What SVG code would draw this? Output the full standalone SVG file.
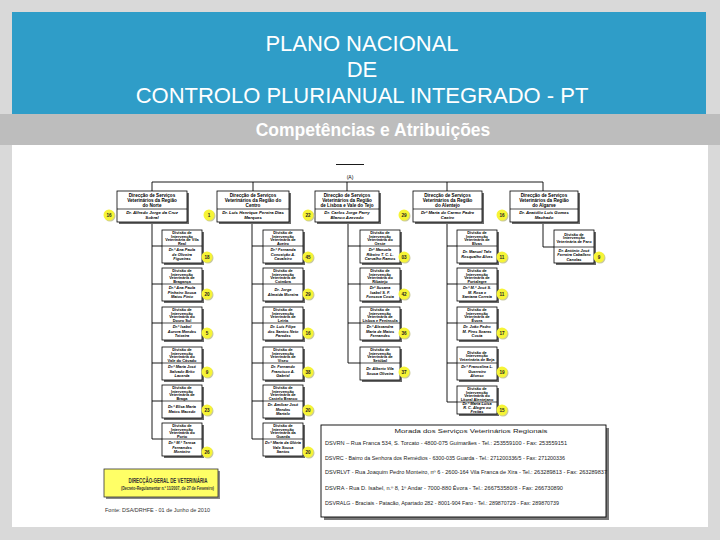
<svg xmlns="http://www.w3.org/2000/svg" width="720" height="540" viewBox="0 0 720 540">
<defs>
<style>
.bg{fill:#d9d9d9}
.hdr{fill:#2f9dc8}
.band{fill:#bdbdbd}
.h1{font-family:"Liberation Sans",Arial,sans-serif;font-size:22px;fill:#fff;text-anchor:middle}
.h2{font-family:"Liberation Sans",Arial,sans-serif;font-size:17.5px;font-weight:bold;fill:#fff;text-anchor:middle}
.box{fill:#fff;stroke:#000;stroke-width:0.8}
.sh{fill:#6a6a6a}
.dv{stroke:#000;stroke-width:0.7}
.tt{font-family:"Liberation Sans",Arial,sans-serif;font-size:4.6px;font-weight:bold;text-anchor:middle;fill:#000}
.tn{font-family:"Liberation Sans",Arial,sans-serif;font-size:4.3px;font-weight:bold;font-style:italic;text-anchor:middle;fill:#000}
.st{font-family:"Liberation Sans",Arial,sans-serif;font-size:3.9px;font-weight:bold;text-anchor:middle;fill:#000}
.sn{font-family:"Liberation Sans",Arial,sans-serif;font-size:3.9px;font-weight:bold;font-style:italic;text-anchor:middle;fill:#000}
.bd{fill:#f6f436}
.bs{fill:#c8c8a0}
.bt{font-family:"Liberation Sans",Arial,sans-serif;font-size:4.6px;font-weight:bold;text-anchor:middle;fill:#222}
.cn{stroke:#000;stroke-width:0.9;fill:none}
.ad{font-family:"Liberation Sans",Arial,sans-serif;font-size:4.6px;fill:#222}
</style>
</defs>
<rect class="bg" x="0" y="0" width="720" height="540"/>
<rect x="12" y="145" width="696" height="382" fill="#fff"/>
<rect class="hdr" x="12" y="12" width="694" height="102"/>
<rect class="band" x="0" y="114" width="720" height="31"/>
<g id="title">
<text class="h1" x="362" y="51">PLANO NACIONAL</text>
<text class="h1" x="362" y="77">DE</text>
<text class="h1" x="362" y="103">CONTROLO PLURIANUAL INTEGRADO - PT</text>
<text class="h2" x="373" y="136">Competências e Atribuições</text>
</g>

<g id="connectors">
<line class="cn" x1="336" y1="164.5" x2="364" y2="164.5"/>
<path class="cn" d="M152 191 V182 H543 V191 M253 182 V191 M347 182 V191 M447 182 V191"/>
<path class="cn" d="M152 222 V439 M152 246 H162 M152 284 H162 M152 323 H162 M152 363 H162 M152 401 H162 M152 439 H162"/>
<path class="cn" d="M252 222 V439 M252 246 H263 M252 284 H263 M252 323 H263 M252 363 H263 M252 401 H263 M252 439 H263"/>
<path class="cn" d="M348 222 V363 M348 246 H360 M348 284 H360 M348 323 H360 M348 363 H360"/>
<path class="cn" d="M447 222 V402 M447 246 H457 M447 284 H457 M447 323 H457 M447 363 H457 M447 402 H457"/>
<path class="cn" d="M543 222 V247 H554"/>
</g>
<text x="350" y="179" font-family="Liberation Sans, Arial, sans-serif" font-size="5" text-anchor="middle">(A)</text>

<!-- top level boxes -->
<g id="dsvrn">
<rect class="sh" x="119" y="193" width="70" height="31"/><rect class="box" x="117" y="191" width="70" height="31"/><line class="dv" x1="117" y1="209" x2="187" y2="209"/>
<text class="tt" x="152" y="196.5"><tspan x="152">Direcção de Serviços</tspan><tspan x="152" dy="5.3">Veterinários da Região</tspan><tspan x="152" dy="5.3">do Norte</tspan></text>
<text class="tn" x="152" y="214.3"><tspan x="152">Dr. Alfredo Jorge da Cruz</tspan><tspan x="152" dy="4.8">Sobral</tspan></text>
<circle class="bs" cx="110" cy="216" r="5.5"/><circle class="bd" cx="109" cy="215" r="5.5"/><text class="bt" x="109" y="216.6">16</text>
</g>
<g id="dsvrc">
<rect class="sh" x="219" y="193" width="72" height="31"/><rect class="box" x="217" y="191" width="72" height="31"/><line class="dv" x1="217" y1="209" x2="289" y2="209"/>
<text class="tt" x="253" y="196.5"><tspan x="253">Direcção de Serviços</tspan><tspan x="253" dy="5.3">Veterinários da Região do</tspan><tspan x="253" dy="5.3">Centro</tspan></text>
<text class="tn" x="253" y="214.3" font-size="4"><tspan x="253">Dr. Luís Henrique Pereira Dias</tspan><tspan x="253" dy="4.8">Marques</tspan></text>
<circle class="bs" cx="210" cy="216" r="5.5"/><circle class="bd" cx="209" cy="215" r="5.5"/><text class="bt" x="209" y="216.6">1</text>
</g>
<g id="dsvrlvt">
<rect class="sh" x="317" y="193" width="64" height="31"/><rect class="box" x="315" y="191" width="64" height="31"/><line class="dv" x1="315" y1="209" x2="379" y2="209"/>
<text class="tt" x="347" y="196.5"><tspan x="347">Direcção de Serviços</tspan><tspan x="347" dy="5.3">Veterinários da Região</tspan><tspan x="347" dy="5.3">de Lisboa e Vale do Tejo</tspan></text>
<text class="tn" x="347" y="214.3"><tspan x="347">Dr. Carlos Jorge Parry</tspan><tspan x="347" dy="4.8">Blanco Azevedo</tspan></text>
<circle class="bs" cx="309" cy="216" r="5.5"/><circle class="bd" cx="308" cy="215" r="5.5"/><text class="bt" x="308" y="216.6">22</text>
</g>
<g id="dsvra">
<rect class="sh" x="415" y="193" width="69" height="31"/><rect class="box" x="413" y="191" width="69" height="31"/><line class="dv" x1="413" y1="209" x2="482" y2="209"/>
<text class="tt" x="447.5" y="196.5"><tspan x="447.5">Direcção de Serviços</tspan><tspan x="447.5" dy="5.3">Veterinários da Região</tspan><tspan x="447.5" dy="5.3">do Alentejo</tspan></text>
<text class="tn" x="447.5" y="214.3"><tspan x="447.5">Drª Maria do Carmo Padre</tspan><tspan x="447.5" dy="4.8">Caeiro</tspan></text>
<circle class="bs" cx="405" cy="216" r="5.5"/><circle class="bd" cx="404" cy="215" r="5.5"/><text class="bt" x="404" y="216.6">29</text>
</g>
<g id="dsvralg">
<rect class="sh" x="512" y="193" width="68" height="31"/><rect class="box" x="510" y="191" width="68" height="31"/><line class="dv" x1="510" y1="209" x2="578" y2="209"/>
<text class="tt" x="544" y="196.5"><tspan x="544">Direcção de Serviços</tspan><tspan x="544" dy="5.3">Veterinários da Região</tspan><tspan x="544" dy="5.3">do Algarve</tspan></text>
<text class="tn" x="544" y="214.3" font-style="normal"><tspan x="544">Dr. Anatólio Luís Gomes</tspan><tspan x="544" dy="4.8">Machado</tspan></text>
<circle class="bs" cx="503" cy="216" r="5.5"/><circle class="bd" cx="502" cy="215" r="5.5"/><text class="bt" x="502" y="216.6">16</text>
</g>

<!-- Norte divisions -->
<g id="n1"><rect class="sh" x="164" y="232" width="40" height="33"/><rect class="box" x="162" y="230" width="40" height="33"/><line class="dv" x1="162" y1="246" x2="202" y2="246"/>
<text class="st" x="182" y="233.6"><tspan x="182">Divisão de</tspan><tspan x="182" dy="3.9">Intervenção</tspan><tspan x="182" dy="3.9">Veterinária de Vila</tspan><tspan x="182" dy="3.9">Real</tspan></text>
<text class="sn" x="182" y="251.2"><tspan x="182">Dr.ª Ana Paula</tspan><tspan x="182" dy="4.3">de Oliveira</tspan><tspan x="182" dy="4.3">Figueiras</tspan></text>
<circle class="bs" cx="208" cy="258" r="5.5"/><circle class="bd" cx="207" cy="257" r="5.5"/><text class="bt" x="207" y="258.6">18</text></g>
<g id="n2"><rect class="sh" x="164" y="270" width="40" height="33"/><rect class="box" x="162" y="268" width="40" height="33"/><line class="dv" x1="162" y1="284" x2="202" y2="284"/>
<text class="st" x="182" y="271.6"><tspan x="182">Divisão de</tspan><tspan x="182" dy="3.9">Intervenção</tspan><tspan x="182" dy="3.9">Veterinária de</tspan><tspan x="182" dy="3.9">Bragança</tspan></text>
<text class="sn" x="182" y="289.2"><tspan x="182">Dr.ª Ana Paula</tspan><tspan x="182" dy="4.3">Pinheiro Sousa</tspan><tspan x="182" dy="4.3">Matos Pinto</tspan></text>
<circle class="bs" cx="208" cy="295" r="5.5"/><circle class="bd" cx="207" cy="294" r="5.5"/><text class="bt" x="207" y="295.6">20</text></g>
<g id="n3"><rect class="sh" x="164" y="309" width="40" height="33"/><rect class="box" x="162" y="307" width="40" height="33"/><line class="dv" x1="162" y1="323" x2="202" y2="323"/>
<text class="st" x="182" y="310.6"><tspan x="182">Divisão de</tspan><tspan x="182" dy="3.9">Intervenção</tspan><tspan x="182" dy="3.9">Veterinária do</tspan><tspan x="182" dy="3.9">Douro Sul</tspan></text>
<text class="sn" x="182" y="328.2"><tspan x="182">Dr.ª Isabel</tspan><tspan x="182" dy="4.3">Aurora Mendes</tspan><tspan x="182" dy="4.3">Teixeira</tspan></text>
<circle class="bs" cx="208" cy="334" r="5.5"/><circle class="bd" cx="207" cy="333" r="5.5"/><text class="bt" x="207" y="334.6">5</text></g>
<g id="n4"><rect class="sh" x="164" y="349" width="40" height="33"/><rect class="box" x="162" y="347" width="40" height="33"/><line class="dv" x1="162" y1="363" x2="202" y2="363"/>
<text class="st" x="182" y="350.6"><tspan x="182">Divisão de</tspan><tspan x="182" dy="3.9">Intervenção</tspan><tspan x="182" dy="3.9">Veterinária do</tspan><tspan x="182" dy="3.9">Vale do Cávado</tspan></text>
<text class="sn" x="182" y="368.2"><tspan x="182">Dr.ª Maria José</tspan><tspan x="182" dy="4.3">Salvado Brito</tspan><tspan x="182" dy="4.3">Lacerda</tspan></text>
<circle class="bs" cx="208" cy="373" r="5.5"/><circle class="bd" cx="207" cy="372" r="5.5"/><text class="bt" x="207" y="373.6">9</text></g>
<g id="n5"><rect class="sh" x="164" y="387" width="40" height="33"/><rect class="box" x="162" y="385" width="40" height="33"/><line class="dv" x1="162" y1="401" x2="202" y2="401"/>
<text class="st" x="182" y="388.6"><tspan x="182">Divisão de</tspan><tspan x="182" dy="3.9">Intervenção</tspan><tspan x="182" dy="3.9">Veterinária de</tspan><tspan x="182" dy="3.9">Braga</tspan></text>
<text class="sn" x="182" y="408.4"><tspan x="182">Dr.ª Elisa Maria</tspan><tspan x="182" dy="4.3">Matos Macedo</tspan></text>
<circle class="bs" cx="208" cy="411" r="5.5"/><circle class="bd" cx="207" cy="410" r="5.5"/><text class="bt" x="207" y="411.6">23</text></g>
<g id="n6"><rect class="sh" x="164" y="425" width="40" height="33"/><rect class="box" x="162" y="423" width="40" height="33"/><line class="dv" x1="162" y1="439" x2="202" y2="439"/>
<text class="st" x="182" y="426.6"><tspan x="182">Divisão de</tspan><tspan x="182" dy="3.9">Intervenção</tspan><tspan x="182" dy="3.9">Veterinária do</tspan><tspan x="182" dy="3.9">Porto</tspan></text>
<text class="sn" x="182" y="444.2"><tspan x="182">Dr.ª M.ª Teresa</tspan><tspan x="182" dy="4.3">Fernandes</tspan><tspan x="182" dy="4.3">Monteiro</tspan></text>
<circle class="bs" cx="208" cy="453" r="5.5"/><circle class="bd" cx="207" cy="452" r="5.5"/><text class="bt" x="207" y="453.6">26</text></g>

<!-- Centro divisions -->
<g id="c1"><rect class="sh" x="265" y="232" width="40" height="33"/><rect class="box" x="263" y="230" width="40" height="33"/><line class="dv" x1="263" y1="246" x2="303" y2="246"/>
<text class="st" x="283" y="233.6"><tspan x="283">Divisão de</tspan><tspan x="283" dy="3.9">Intervenção</tspan><tspan x="283" dy="3.9">Veterinária de</tspan><tspan x="283" dy="3.9">Aveiro</tspan></text>
<text class="sn" x="283" y="251.2"><tspan x="283">Dr.ª Fernanda</tspan><tspan x="283" dy="4.3">Conceição A.</tspan><tspan x="283" dy="4.3">Cavaleiro</tspan></text>
<circle class="bs" cx="309" cy="258" r="5.5"/><circle class="bd" cx="308" cy="257" r="5.5"/><text class="bt" x="308" y="258.6">45</text></g>
<g id="c2"><rect class="sh" x="265" y="270" width="40" height="33"/><rect class="box" x="263" y="268" width="40" height="33"/><line class="dv" x1="263" y1="284" x2="303" y2="284"/>
<text class="st" x="283" y="271.6"><tspan x="283">Divisão de</tspan><tspan x="283" dy="3.9">Intervenção</tspan><tspan x="283" dy="3.9">Veterinária de</tspan><tspan x="283" dy="3.9">Coimbra</tspan></text>
<text class="sn" x="283" y="291.4"><tspan x="283">Dr. Jorge</tspan><tspan x="283" dy="4.3">Almeida Moreira</tspan></text>
<circle class="bs" cx="309" cy="295" r="5.5"/><circle class="bd" cx="308" cy="294" r="5.5"/><text class="bt" x="308" y="295.6">29</text></g>
<g id="c3"><rect class="sh" x="265" y="309" width="40" height="33"/><rect class="box" x="263" y="307" width="40" height="33"/><line class="dv" x1="263" y1="323" x2="303" y2="323"/>
<text class="st" x="283" y="310.6"><tspan x="283">Divisão de</tspan><tspan x="283" dy="3.9">Intervenção</tspan><tspan x="283" dy="3.9">Veterinária de</tspan><tspan x="283" dy="3.9">Leiria</tspan></text>
<text class="sn" x="283" y="328.2"><tspan x="283">Dr. Luís Filipe</tspan><tspan x="283" dy="4.3">dos Santos Neto</tspan><tspan x="283" dy="4.3">Paredes</tspan></text>
<circle class="bs" cx="309" cy="334" r="5.5"/><circle class="bd" cx="308" cy="333" r="5.5"/><text class="bt" x="308" y="334.6">16</text></g>
<g id="c4"><rect class="sh" x="265" y="349" width="40" height="33"/><rect class="box" x="263" y="347" width="40" height="33"/><line class="dv" x1="263" y1="363" x2="303" y2="363"/>
<text class="st" x="283" y="350.6"><tspan x="283">Divisão de</tspan><tspan x="283" dy="3.9">Intervenção</tspan><tspan x="283" dy="3.9">Veterinária de</tspan><tspan x="283" dy="3.9">Viseu</tspan></text>
<text class="sn" x="283" y="368.2"><tspan x="283">Dr. Fernando</tspan><tspan x="283" dy="4.3">Francisco A.</tspan><tspan x="283" dy="4.3">Gabriel</tspan></text>
<circle class="bs" cx="309" cy="373" r="5.5"/><circle class="bd" cx="308" cy="372" r="5.5"/><text class="bt" x="308" y="373.6">38</text></g>
<g id="c5"><rect class="sh" x="265" y="387" width="40" height="33"/><rect class="box" x="263" y="385" width="40" height="33"/><line class="dv" x1="263" y1="401" x2="303" y2="401"/>
<text class="st" x="283" y="388.6"><tspan x="283">Divisão de</tspan><tspan x="283" dy="3.9">Intervenção</tspan><tspan x="283" dy="3.9">Veterinária de</tspan><tspan x="283" dy="3.9">Castelo Branco</tspan></text>
<text class="sn" x="283" y="406.2"><tspan x="283">Dr. Amílcar José</tspan><tspan x="283" dy="4.3">Mendes</tspan><tspan x="283" dy="4.3">Martelo</tspan></text>
<circle class="bs" cx="309" cy="411" r="5.5"/><circle class="bd" cx="308" cy="410" r="5.5"/><text class="bt" x="308" y="411.6">20</text></g>
<g id="c6"><rect class="sh" x="265" y="425" width="40" height="33"/><rect class="box" x="263" y="423" width="40" height="33"/><line class="dv" x1="263" y1="439" x2="303" y2="439"/>
<text class="st" x="283" y="426.6"><tspan x="283">Divisão de</tspan><tspan x="283" dy="3.9">Intervenção</tspan><tspan x="283" dy="3.9">Veterinária da</tspan><tspan x="283" dy="3.9">Guarda</tspan></text>
<text class="sn" x="283" y="444.2"><tspan x="283">Dr.ª Maria da Glória</tspan><tspan x="283" dy="4.3">Vale Sousa</tspan><tspan x="283" dy="4.3">Santos</tspan></text>
<circle class="bs" cx="309" cy="453" r="5.5"/><circle class="bd" cx="308" cy="452" r="5.5"/><text class="bt" x="308" y="453.6">20</text></g>

<!-- Lisboa divisions -->
<g id="l1"><rect class="sh" x="362" y="232" width="40" height="33"/><rect class="box" x="360" y="230" width="40" height="33"/><line class="dv" x1="360" y1="246" x2="400" y2="246"/>
<text class="st" x="380" y="233.6"><tspan x="380">Divisão de</tspan><tspan x="380" dy="3.9">Intervenção</tspan><tspan x="380" dy="3.9">Veterinária do</tspan><tspan x="380" dy="3.9">Oeste</tspan></text>
<text class="sn" x="380" y="251.2"><tspan x="380">Drª Manuela</tspan><tspan x="380" dy="4.3">Ribeiro T. C. L.</tspan><tspan x="380" dy="4.3">Carvalho Ramos</tspan></text>
<circle class="bs" cx="405" cy="258" r="5.5"/><circle class="bd" cx="404" cy="257" r="5.5"/><text class="bt" x="404" y="258.6">03</text></g>
<g id="l2"><rect class="sh" x="362" y="270" width="40" height="33"/><rect class="box" x="360" y="268" width="40" height="33"/><line class="dv" x1="360" y1="284" x2="400" y2="284"/>
<text class="st" x="380" y="271.6"><tspan x="380">Divisão de</tspan><tspan x="380" dy="3.9">Intervenção</tspan><tspan x="380" dy="3.9">Veterinária do</tspan><tspan x="380" dy="3.9">Ribatejo</tspan></text>
<text class="sn" x="380" y="289.2"><tspan x="380">Drª Susana</tspan><tspan x="380" dy="4.3">Isabel S. F.</tspan><tspan x="380" dy="4.3">Fonseca Costa</tspan></text>
<circle class="bs" cx="405" cy="295" r="5.5"/><circle class="bd" cx="404" cy="294" r="5.5"/><text class="bt" x="404" y="295.6">42</text></g>
<g id="l3"><rect class="sh" x="362" y="309" width="40" height="33"/><rect class="box" x="360" y="307" width="40" height="33"/><line class="dv" x1="360" y1="323" x2="400" y2="323"/>
<text class="st" x="380" y="310.6"><tspan x="380">Divisão de</tspan><tspan x="380" dy="3.9">Intervenção</tspan><tspan x="380" dy="3.9">Veterinária de</tspan><tspan x="380" dy="3.9">Lisboa e Península</tspan></text>
<text class="sn" x="380" y="328.2"><tspan x="380">Dr.ª Alexandra</tspan><tspan x="380" dy="4.3">Maria de Matos</tspan><tspan x="380" dy="4.3">Fernandes</tspan></text>
<circle class="bs" cx="405" cy="334" r="5.5"/><circle class="bd" cx="404" cy="333" r="5.5"/><text class="bt" x="404" y="334.6">36</text></g>
<g id="l4"><rect class="sh" x="362" y="349" width="40" height="33"/><rect class="box" x="360" y="347" width="40" height="33"/><line class="dv" x1="360" y1="363" x2="400" y2="363"/>
<text class="st" x="380" y="350.6"><tspan x="380">Divisão de</tspan><tspan x="380" dy="3.9">Intervenção</tspan><tspan x="380" dy="3.9">Veterinária de</tspan><tspan x="380" dy="3.9">Setúbal</tspan></text>
<text class="sn" x="380" y="370.4"><tspan x="380">Dr. Alberto Vila</tspan><tspan x="380" dy="4.3">Sousa Oliveira</tspan></text>
<circle class="bs" cx="405" cy="373" r="5.5"/><circle class="bd" cx="404" cy="372" r="5.5"/><text class="bt" x="404" y="373.6">37</text></g>

<!-- Alentejo divisions -->
<g id="a1"><rect class="sh" x="459" y="232" width="40" height="33"/><rect class="box" x="457" y="230" width="40" height="33"/><line class="dv" x1="457" y1="246" x2="497" y2="246"/>
<text class="st" x="477" y="233.6"><tspan x="477">Divisão de</tspan><tspan x="477" dy="3.9">Intervenção</tspan><tspan x="477" dy="3.9">Veterinária de</tspan><tspan x="477" dy="3.9">Elvas</tspan></text>
<text class="sn" x="477" y="253.4"><tspan x="477">Dr. Manuel Tafe</tspan><tspan x="477" dy="4.3">Rosqualho Alves</tspan></text>
<circle class="bs" cx="503" cy="258" r="5.5"/><circle class="bd" cx="502" cy="257" r="5.5"/><text class="bt" x="502" y="258.6">11</text></g>
<g id="a2"><rect class="sh" x="459" y="270" width="40" height="33"/><rect class="box" x="457" y="268" width="40" height="33"/><line class="dv" x1="457" y1="284" x2="497" y2="284"/>
<text class="st" x="477" y="271.6"><tspan x="477">Divisão de</tspan><tspan x="477" dy="3.9">Intervenção</tspan><tspan x="477" dy="3.9">Veterinária de</tspan><tspan x="477" dy="3.9">Portalegre</tspan></text>
<text class="sn" x="477" y="289.2"><tspan x="477">Dr.ª M.ª José S.</tspan><tspan x="477" dy="4.3">M. Rosa e</tspan><tspan x="477" dy="4.3">Santana Correia</tspan></text>
<circle class="bs" cx="503" cy="295" r="5.5"/><circle class="bd" cx="502" cy="294" r="5.5"/><text class="bt" x="502" y="295.6">11</text></g>
<g id="a3"><rect class="sh" x="459" y="309" width="40" height="33"/><rect class="box" x="457" y="307" width="40" height="33"/><line class="dv" x1="457" y1="323" x2="497" y2="323"/>
<text class="st" x="477" y="310.6"><tspan x="477">Divisão de</tspan><tspan x="477" dy="3.9">Intervenção</tspan><tspan x="477" dy="3.9">Veterinária de</tspan><tspan x="477" dy="3.9">Évora</tspan></text>
<text class="sn" x="477" y="328.2"><tspan x="477">Dr. João Pedro</tspan><tspan x="477" dy="4.3">M. Pires Soares</tspan><tspan x="477" dy="4.3">Costa</tspan></text>
<circle class="bs" cx="503" cy="334" r="5.5"/><circle class="bd" cx="502" cy="333" r="5.5"/><text class="bt" x="502" y="334.6">17</text></g>
<g id="a4"><rect class="sh" x="459" y="349" width="40" height="33"/><rect class="box" x="457" y="347" width="40" height="33"/><line class="dv" x1="457" y1="363" x2="497" y2="363"/>
<text class="st" x="477" y="353.5"><tspan x="477">Divisão de</tspan><tspan x="477" dy="3.9">Intervenção</tspan><tspan x="477" dy="3.9">Veterinária de Beja</tspan></text>
<text class="sn" x="477" y="368.2"><tspan x="477">Dr.ª Francelina L.</tspan><tspan x="477" dy="4.3">Guerreiro</tspan><tspan x="477" dy="4.3">Afonso</tspan></text>
<circle class="bs" cx="503" cy="373" r="5.5"/><circle class="bd" cx="502" cy="372" r="5.5"/><text class="bt" x="502" y="373.6">19</text></g>
<g id="a5"><rect class="sh" x="459" y="388" width="40" height="28"/><rect class="box" x="457" y="386" width="40" height="28"/><line class="dv" x1="457" y1="402" x2="497" y2="402"/>
<text class="st" x="477" y="389.6"><tspan x="477">Divisão de</tspan><tspan x="477" dy="3.9">Intervenção</tspan><tspan x="477" dy="3.9">Veterinária do</tspan><tspan x="477" dy="3.9">Litoral Alentejano</tspan></text>
<text class="sn" x="477" y="405.4" font-size="3.6"><tspan x="477">Dr.ª Maria Luísa</tspan><tspan x="477" dy="3.7">R. C. Alegre ou</tspan><tspan x="477" dy="3.7">Freitas</tspan></text>
<circle class="bs" cx="503" cy="411" r="5.5"/><circle class="bd" cx="502" cy="410" r="5.5"/><text class="bt" x="502" y="411.6">15</text></g>

<!-- Algarve division -->
<g id="g1"><rect class="sh" x="556" y="232" width="40" height="33"/><rect class="box" x="554" y="230" width="40" height="33"/><line class="dv" x1="554" y1="247" x2="594" y2="247"/>
<text class="st" x="574" y="235.5"><tspan x="574">Divisão de</tspan><tspan x="574" dy="3.9">Intervenção</tspan><tspan x="574" dy="3.9">Veterinária de Faro</tspan></text>
<text class="sn" x="574" y="252" font-style="normal"><tspan x="574">Dr. António José</tspan><tspan x="574" dy="4.3">Ferreira Caballero</tspan><tspan x="574" dy="4.3">Canelas</tspan></text>
<circle class="bs" cx="600" cy="258" r="5.5"/><circle class="bd" cx="599" cy="257" r="5.5"/><text class="bt" x="599" y="258.6">9</text></g>

<!-- DGV box -->
<g id="dgv">
<rect x="106" y="471" width="114" height="28" fill="#8a8a8a"/>
<rect x="104" y="469" width="114" height="28" fill="#ffff66" stroke="#333" stroke-width="0.8"/>
<text x="168" y="483" font-family="Liberation Sans, Arial, sans-serif" font-size="7.5" font-weight="bold" fill="#333" text-anchor="middle" textLength="79" lengthAdjust="spacingAndGlyphs">DIRECÇÃO-GERAL DE VETERINÁRIA</text>
<text x="167.5" y="490" font-family="Liberation Sans, Arial, sans-serif" font-size="4.6" font-weight="bold" fill="#333" text-anchor="middle" textLength="93" lengthAdjust="spacingAndGlyphs">(Decreto-Regulamentar n.º 11/2007, de 27 de Fevereiro)</text>
</g>
<text x="105" y="511.5" font-family="Liberation Sans, Arial, sans-serif" font-size="4.6" fill="#333" textLength="105" lengthAdjust="spacingAndGlyphs">Fonte: DSA/DRHFE  -  01 de Junho de 2010</text>

<!-- address box -->
<g id="moradas">
<rect x="324" y="428" width="285" height="92" fill="#7a7a7a"/>
<rect x="321" y="425" width="285" height="92" fill="#fff" stroke="#000" stroke-width="0.9"/>
<text x="471" y="433" font-family="Liberation Sans, Arial, sans-serif" font-size="6" fill="#222" text-anchor="middle" textLength="153" lengthAdjust="spacingAndGlyphs">Morada dos Serviços Veterinários Regionais</text>
<text class="ad" x="325" y="444.5" textLength="242" lengthAdjust="spacingAndGlyphs">DSVRN – Rua Franca 534, S. Torcato - 4800-075 Guimarães - Tel.: 253559100 - Fax: 253559151</text>
<text class="ad" x="325" y="460" textLength="240" lengthAdjust="spacingAndGlyphs">DSVRC - Bairro da Senhora dos Remédios - 6300-035 Guarda - Tel.: 271200336/5 - Fax: 271200336</text>
<text class="ad" x="325" y="474" textLength="282" lengthAdjust="spacingAndGlyphs">DSVRLVT - Rua Joaquim Pedro Monteiro, nº 6 - 2600-164 Vila Franca de Xira - Tel.: 263289813 - Fax: 263289837</text>
<text class="ad" x="325" y="490" textLength="238" lengthAdjust="spacingAndGlyphs">DSVRA - Rua D. Isabel, n.º 8, 1º Andar - 7000-880 Évora - Tel.: 266753580/8 - Fax: 266730890</text>
<text class="ad" x="325" y="505" textLength="234" lengthAdjust="spacingAndGlyphs">DSVRALG - Braciais - Patacão, Apartado 282 - 8001-904 Faro - Tel.: 289870729 - Fax: 289870739</text>
</g>
</svg>
